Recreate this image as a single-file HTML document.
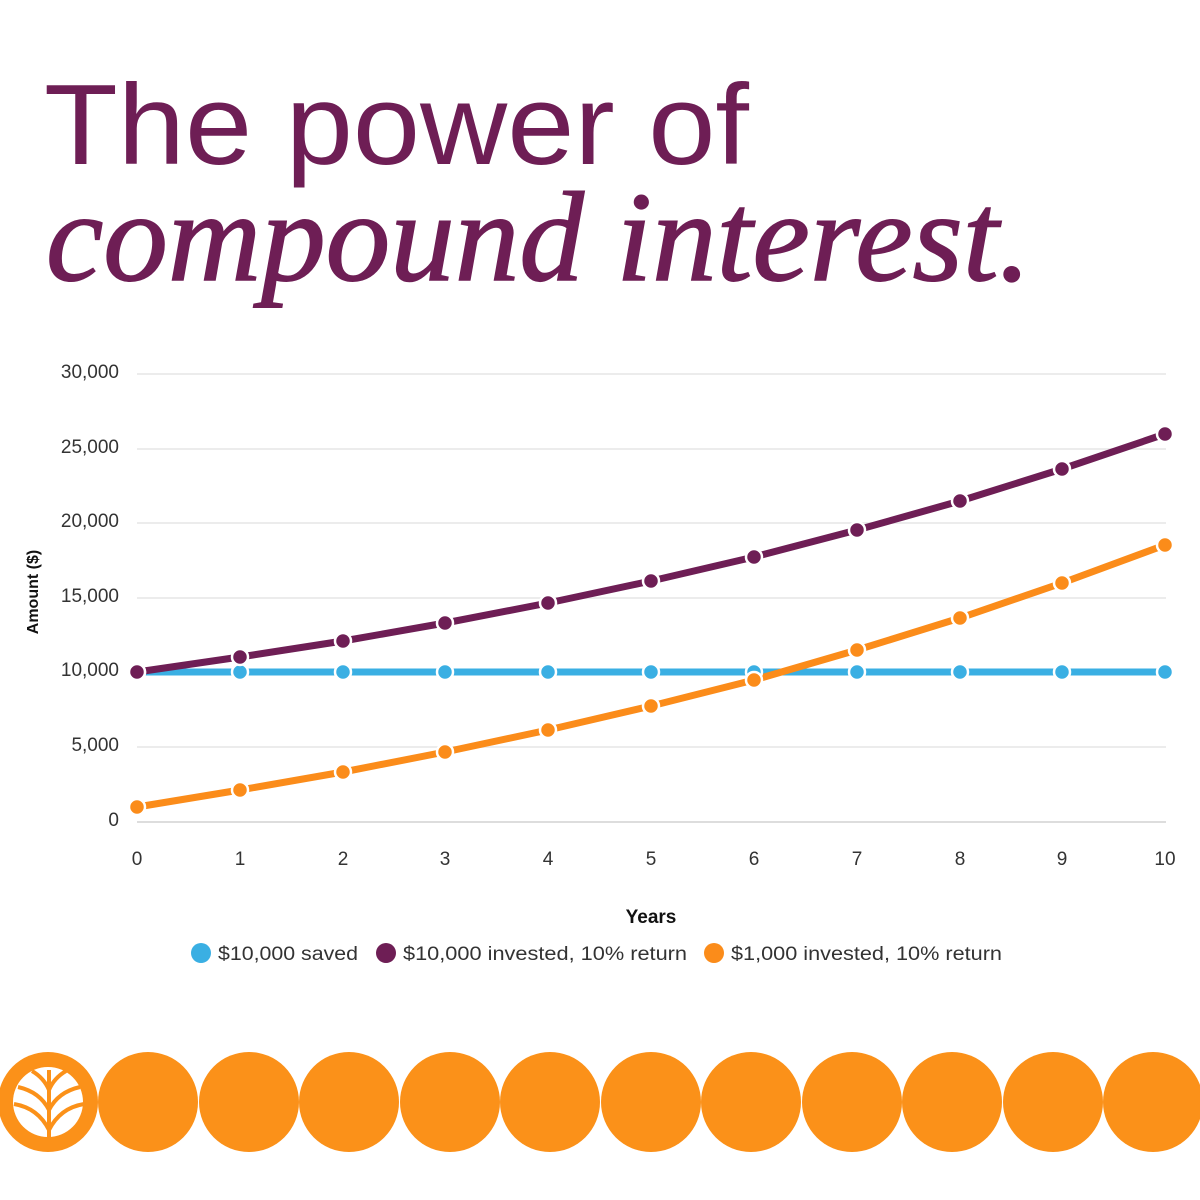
<!DOCTYPE html>
<html><head><meta charset="utf-8"><style>
html,body{margin:0;padding:0;background:#fff;}
svg{display:block;}
</style></head><body>
<svg width="1200" height="1200" viewBox="0 0 1200 1200" xmlns="http://www.w3.org/2000/svg">
<rect width="1200" height="1200" fill="#fff"/>
<text x="44" y="164" font-family="Liberation Sans, sans-serif" font-size="114" fill="#6e1e55" textLength="705" lengthAdjust="spacingAndGlyphs">The power of</text>
<text x="46" y="280" font-family="Liberation Serif, serif" font-style="italic" font-size="128" fill="#6e1e55" stroke="#6e1e55" stroke-width="1.5" textLength="985" lengthAdjust="spacingAndGlyphs">compound interest.</text>
<g stroke="#ececec" stroke-width="2">
<line x1="137" x2="1166" y1="374" y2="374"/><line x1="137" x2="1166" y1="449" y2="449"/>
<line x1="137" x2="1166" y1="523" y2="523"/><line x1="137" x2="1166" y1="598" y2="598"/>
<line x1="137" x2="1166" y1="672" y2="672"/><line x1="137" x2="1166" y1="747" y2="747"/>
<line x1="137" x2="1166" y1="822" y2="822" stroke="#ddd"/>
</g>
<g font-family="Liberation Sans, sans-serif" font-size="19" fill="#333" text-anchor="end">
<text x="119" y="378">30,000</text><text x="119" y="453">25,000</text><text x="119" y="527">20,000</text>
<text x="119" y="602">15,000</text><text x="119" y="676">10,000</text><text x="119" y="751">5,000</text>
<text x="119" y="826">0</text>
</g>
<g font-family="Liberation Sans, sans-serif" font-size="19" fill="#333" text-anchor="middle">
<text x="137" y="865">0</text><text x="240" y="865">1</text><text x="343" y="865">2</text><text x="445" y="865">3</text>
<text x="548" y="865">4</text><text x="651" y="865">5</text><text x="754" y="865">6</text><text x="857" y="865">7</text>
<text x="960" y="865">8</text><text x="1062" y="865">9</text><text x="1165" y="865">10</text>
<text x="651" y="923" font-weight="bold" fill="#111">Years</text>
</g>
<text transform="translate(38,592) rotate(-90)" font-family="Liberation Sans, sans-serif" font-size="16" font-weight="bold" fill="#111" text-anchor="middle">Amount ($)</text>
<g stroke-width="7" fill="none">
<polyline stroke="#3aafe3" points="137,672 1165,672"/>
<polyline stroke="#6e1e55" points="137,672 240,657 343,641 445,623 548,603 651,581 754,557 857,530 960,501 1062,469 1165,434"/>
<polyline stroke="#fb8c1a" points="137,807 240,790 343,772 445,752 548,730 651,706 754,680 857,650 960,618 1062,583 1165,545"/>
</g>
<g stroke="#fff" stroke-width="2.5">
<g fill="#3aafe3"><circle cx="137" cy="672" r="8"/><circle cx="240" cy="672" r="8"/><circle cx="343" cy="672" r="8"/><circle cx="445" cy="672" r="8"/><circle cx="548" cy="672" r="8"/><circle cx="651" cy="672" r="8"/><circle cx="754" cy="672" r="8"/><circle cx="857" cy="672" r="8"/><circle cx="960" cy="672" r="8"/><circle cx="1062" cy="672" r="8"/><circle cx="1165" cy="672" r="8"/></g>
<g fill="#6e1e55"><circle cx="137" cy="672" r="8"/><circle cx="240" cy="657" r="8"/><circle cx="343" cy="641" r="8"/><circle cx="445" cy="623" r="8"/><circle cx="548" cy="603" r="8"/><circle cx="651" cy="581" r="8"/><circle cx="754" cy="557" r="8"/><circle cx="857" cy="530" r="8"/><circle cx="960" cy="501" r="8"/><circle cx="1062" cy="469" r="8"/><circle cx="1165" cy="434" r="8"/></g>
<g fill="#fb8c1a"><circle cx="137" cy="807" r="8"/><circle cx="240" cy="790" r="8"/><circle cx="343" cy="772" r="8"/><circle cx="445" cy="752" r="8"/><circle cx="548" cy="730" r="8"/><circle cx="651" cy="706" r="8"/><circle cx="754" cy="680" r="8"/><circle cx="857" cy="650" r="8"/><circle cx="960" cy="618" r="8"/><circle cx="1062" cy="583" r="8"/><circle cx="1165" cy="545" r="8"/></g>
</g>
<g font-family="Liberation Sans, sans-serif" font-size="19" fill="#333">
<circle cx="201" cy="953" r="10" fill="#3aafe3"/><text x="218" y="960" textLength="140" lengthAdjust="spacingAndGlyphs">$10,000 saved</text>
<circle cx="386" cy="953" r="10" fill="#6e1e55"/><text x="403" y="960" textLength="284" lengthAdjust="spacingAndGlyphs">$10,000 invested, 10% return</text>
<circle cx="714" cy="953" r="10" fill="#fb8c1a"/><text x="731" y="960" textLength="271" lengthAdjust="spacingAndGlyphs">$1,000 invested, 10% return</text>
</g>
<g fill="#fb9119">
<circle cx="48" cy="1102" r="50"/><circle cx="148" cy="1102" r="50"/><circle cx="249" cy="1102" r="50"/><circle cx="349" cy="1102" r="50"/>
<circle cx="450" cy="1102" r="50"/><circle cx="550" cy="1102" r="50"/><circle cx="651" cy="1102" r="50"/><circle cx="751" cy="1102" r="50"/>
<circle cx="852" cy="1102" r="50"/><circle cx="952" cy="1102" r="50"/><circle cx="1053" cy="1102" r="50"/><circle cx="1153" cy="1102" r="50"/>
</g>
<circle cx="48" cy="1102" r="35" fill="#fff"/>
<g stroke="#fb9119" stroke-width="4" fill="none">
<line x1="49" y1="1140" x2="49" y2="1070"/>
<path d="M49 1090 Q44 1078 32 1071"/><path d="M49 1090 Q54 1078 66 1071"/>
<path d="M49 1110 Q40 1092 18 1087"/><path d="M49 1110 Q58 1092 80 1087"/>
<path d="M49 1130 Q38 1108 14 1104"/><path d="M49 1130 Q60 1108 84 1104"/>
</g>
</svg>
</body></html>
